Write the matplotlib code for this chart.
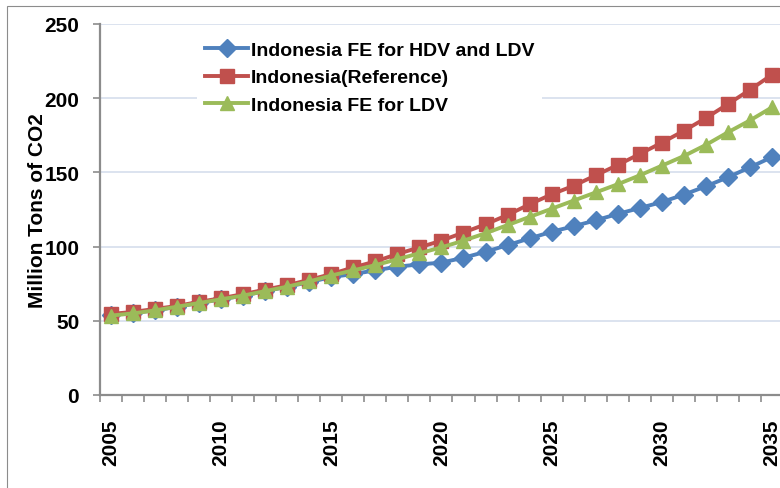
"""
Indonesia CO2 emissions: fuel-economy scenarios vs reference
"""
import matplotlib
matplotlib.use("Agg")
import matplotlib.pyplot as plt
from matplotlib.patches import Rectangle
from matplotlib.ticker import FixedLocator

plt.rcParams['font.family'] = ['Liberation Sans Narrow', 'Liberation Sans', 'DejaVu Sans']

years = list(range(2005, 2036))

# values (Million Tons of CO2)
fe_hdv_ldv = [54, 55.5, 57, 59.5, 62, 64.5, 67, 70, 73, 76, 79.5,
              81.5, 84, 86.5, 88, 89.2, 92.5, 96.5, 101, 105.5, 110,
              113.7, 117.7, 122, 126, 130, 135, 140.6, 146.7, 153.4, 160.3]
reference = [54.6, 56, 58, 60, 62.8, 65.2, 68, 71, 74, 77.6, 81.5,
             86, 90, 95, 99.5, 104, 109.5, 115, 121.3, 128.5, 135.2,
             141, 148, 155, 162.4, 170, 178, 186.6, 196, 205.6, 215.8]
fe_ldv = [53.5, 55, 57, 59.5, 62, 64.5, 67, 70, 73, 76.5, 80.5,
          84, 87.5, 91.5, 95.5, 99.5, 104, 109, 114.5, 120, 125.5,
          131, 136.5, 142, 148, 154.5, 161, 168.5, 177, 185, 193.8]

labels = ['Indonesia FE for HDV and LDV', 'Indonesia(Reference)', 'Indonesia FE for LDV']
colors = ['#4F81BD', '#C0504D', '#9BBB59']

fig = plt.figure(figsize=(7.8, 4.89), dpi=100)
ax = fig.add_axes([100 / 780, 93 / 489, 680 / 780, 371 / 489])

# thin outer chart border (runs off the right/bottom of the picture)
fig.patches.append(Rectangle((7 / 780, -0.1), 1.2, 1 - 7 / 489 + 0.1,
                             transform=fig.transFigure, fill=False,
                             edgecolor='#8C8C8C', linewidth=0.8))

ax.plot(years, fe_hdv_ldv, color=colors[0], lw=2.8, marker='D', ms=9,
        label=labels[0], zorder=3)
ax.plot(years, reference, color=colors[1], lw=2.8, marker='s', ms=9.5,
        label=labels[1], zorder=3)
ax.plot(years, fe_ldv, color=colors[2], lw=2.8, marker='^', ms=10.5,
        label=labels[2], zorder=4)

ax.set_xlim(2004.5, 2004.5 + 680 / 22.03)
ax.set_ylim(0, 250)

ax.set_yticks([0, 50, 100, 150, 200, 250])
ax.yaxis.grid(True, color='#D5DEEC', linewidth=1.2)
ax.set_axisbelow(True)

ax.set_xticks([2005, 2010, 2015, 2020, 2025, 2030, 2035])
ax.xaxis.set_minor_locator(FixedLocator([y - 0.5 for y in years] + [2035.5]))
ax.tick_params(axis='x', which='major', length=0, pad=17, labelrotation=90)
ax.tick_params(axis='x', which='minor', length=5, width=1.2, color='#8C8C8C',
               direction='out')
ax.tick_params(axis='y', length=5, width=1.2, color='#8C8C8C', pad=10)

for lab in ax.get_xticklabels() + ax.get_yticklabels():
    lab.set_fontsize(15)
    lab.set_fontweight('bold')

ax.set_ylabel('Million Tons of CO2', fontsize=15, fontweight='bold', labelpad=-2)

for s in ['top', 'right']:
    ax.spines[s].set_visible(False)
for s in ['left', 'bottom']:
    ax.spines[s].set_color('#8C8C8C')
    ax.spines[s].set_linewidth(1.6)

leg = ax.legend(loc='upper left', bbox_to_anchor=(0.129, 1.0), frameon=True,
                fancybox=False, edgecolor='none', facecolor='white', framealpha=1,
                prop={'size': 14, 'weight': 'bold'}, handlelength=2.2,
                handletextpad=0.15, labelspacing=0.5, borderpad=0.4)

fig.savefig('out.png', dpi=100)
